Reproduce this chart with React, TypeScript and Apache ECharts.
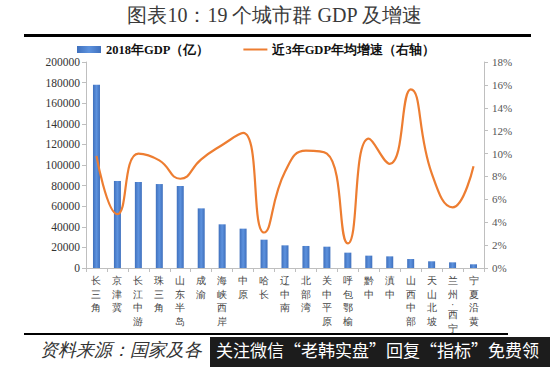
import React, { useEffect, useRef } from "react";
import * as echarts from "echarts";

const categories = ["长三角", "京津冀", "长江中游", "珠三角", "山东半岛", "成渝", "海峡西岸", "中原", "哈长", "辽中南", "北部湾", "关中平原", "呼包鄂榆", "黔中", "滇中", "山西中部", "天山北坡", "兰州·西宁", "宁夏沿黄"];
const gdp2018 = [178000, 84500, 83500, 81500, 79600, 57900, 42400, 38200, 27500, 22000, 21400, 20700, 14900, 12000, 11300, 8700, 6500, 5500, 3600];
const growth3y = [9.8, 4.7, 10.0, 9.4, 7.8, 9.5, 10.75, 11.8, 3.1, 8.4, 10.25, 10.0, 2.15, 11.3, 9.1, 15.6, 8.3, 5.3, 8.9];
const leftTicks = { min: 0, max: 200000, interval: 20000 };
const rightTicks = { min: 0, max: 18, interval: 2 };

const serif = "Liberation Serif, Times New Roman, serif";

export default function App() {
  const ref = useRef<HTMLDivElement>(null);
  useEffect(() => {
    if (!ref.current) return;
    const chart = echarts.init(ref.current, undefined, { renderer: "svg" });
    chart.setOption({
      animation: false,
      backgroundColor: "#ffffff",
      grid: { left: 86, right: 66, top: 62, bottom: 99, containLabel: false },
      legend: {
        top: 43,
        left: 77,
        padding: 0,
        itemGap: 34,
        itemWidth: 24,
        itemHeight: 7,
        textStyle: { fontFamily: serif, fontWeight: "bold", fontSize: 12.5, color: "#111" },
        data: [
          { name: "2018年GDP（亿）", icon: "rect" },
          { name: "近3年GDP年均增速（右轴）", icon: "path://M0,0 H24 V2 H0 Z", itemStyle: { color: "#ED7D31" } },
        ],
      },
      xAxis: {
        type: "category",
        data: categories,
        axisLine: { lineStyle: { color: "#bfbfbf" } },
        axisTick: { show: true, lineStyle: { color: "#bfbfbf" }, length: 4 },
        axisLabel: {
          interval: 0,
          color: "#444",
          margin: 6,
          formatter: (v: string) =>
            v
              .split("")
              .map((ch) => (ch === "·" ? "{d|·}" : "{c|" + ch + "}"))
              .join("\n"),
          rich: {
            c: { fontSize: 10, lineHeight: 13.5, color: "#444", fontFamily: serif },
            d: { fontSize: 10, lineHeight: 7, color: "#444", fontFamily: serif },
          },
        },
      },
      yAxis: [
        {
          type: "value",
          ...leftTicks,
          axisLine: { show: true, lineStyle: { color: "#bfbfbf" } },
          axisTick: { show: true, lineStyle: { color: "#bfbfbf" }, length: 4 },
          splitLine: { show: false },
          axisLabel: { fontFamily: serif, fontSize: 11.5, color: "#333", margin: 6, formatter: (v: number) => String(v) },
        },
        {
          type: "value",
          ...rightTicks,
          position: "right",
          axisLine: { show: true, lineStyle: { color: "#bfbfbf" } },
          axisTick: { show: true, lineStyle: { color: "#bfbfbf" }, length: 4 },
          splitLine: { show: false },
          axisLabel: { fontFamily: serif, fontSize: 11, color: "#555", margin: 8, formatter: "{value}%" },
        },
      ],
      series: [
        {
          name: "2018年GDP（亿）",
          type: "bar",
          data: gdp2018,
          barWidth: 7,
          itemStyle: {
            color: new echarts.graphic.LinearGradient(0, 0, 1, 0, [
              { offset: 0, color: "#3f70bd" },
              { offset: 0.5, color: "#5d92de" },
              { offset: 1, color: "#3f70bd" },
            ]),
          },
        },
        {
          name: "近3年GDP年均增速（右轴）",
          type: "line",
          yAxisIndex: 1,
          data: growth3y,
          smooth: 0.5,
          symbol: "none",
          lineStyle: { color: "#ED7D31", width: 2.2 },
          itemStyle: { color: "#ED7D31" },
        },
      ],
      graphic: [
        {
          type: "text",
          left: "center",
          top: 5,
          style: { text: "图表10：19 个城市群 GDP 及增速", font: "20px Liberation Serif, serif", fill: "#3a3a3a" },
        },
        { type: "rect", shape: { x: 24, y: 34, width: 507, height: 3 }, style: { fill: "#000" } },
        { type: "rect", shape: { x: 24, y: 333, width: 484, height: 2 }, style: { fill: "#000" } },
        {
          type: "text",
          left: 40,
          top: 341,
          style: { text: "资料来源：国家及各", font: "italic 18px serif", fill: "#333" },
        },
        { type: "rect", shape: { x: 210, y: 337, width: 340, height: 30 }, style: { fill: "#1c1c1c" } },
        {
          type: "text",
          left: 216,
          top: 341,
          style: { text: "关注微信“老韩实盘”回复“指标”免费领", font: "17px Noto Sans CJK SC, sans-serif", fill: "#ffffff" },
        },
      ],
    });
    return () => chart.dispose();
  }, []);
  return <div ref={ref} style={{ width: 550, height: 367, position: "absolute", left: 0, top: 0 }} />;
}
